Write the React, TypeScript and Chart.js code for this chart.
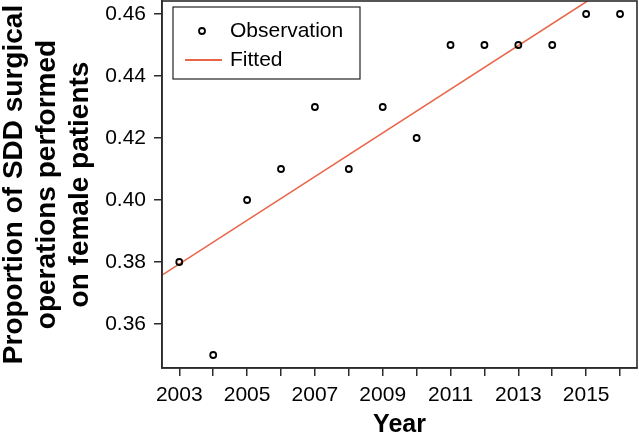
import React, { useEffect, useRef } from "react";
import { Chart, registerables } from "chart.js";

Chart.register(...registerables);

const years = [2003, 2004, 2005, 2006, 2007, 2008, 2009, 2010, 2011, 2012, 2013, 2014, 2015, 2016];
const observed = [0.38, 0.35, 0.40, 0.41, 0.43, 0.41, 0.43, 0.42, 0.45, 0.45, 0.45, 0.45, 0.46, 0.46];
const fittedYears = [2002, 2017];
const fittedValues = [0.3723, 0.478];
const xLabelYears = [2003, 2005, 2007, 2009, 2011, 2013, 2015];
const yTicks = [0.36, 0.38, 0.40, 0.42, 0.44, 0.46];
const yTitle = ["Proportion of SDD surgical", "operations performed", "on female patients"];
const xTitle = "Year";
const legendLabels = ["Observation", "Fitted"];

const FONT = "'Liberation Sans', Arial, Helvetica, sans-serif";
const FIT_COLOR = "#e8654a";
const AXIS_COLOR = "#2b2b2b";

const framePlugin = {
  id: "frameAndLegend",
  afterDraw(chart: any) {
    const { ctx, chartArea } = chart;
    const { left, top, right, bottom } = chartArea;
    ctx.save();
    ctx.strokeStyle = AXIS_COLOR;
    ctx.lineWidth = 1.6;
    ctx.strokeRect(left, top, right - left, bottom - top);

    // y-axis title (three centred lines, rotated)
    ctx.fillStyle = "#000";
    ctx.font = `bold 28px ${FONT}`;
    ctx.textAlign = "center";
    ctx.textBaseline = "alphabetic";
    const cy = (top + bottom) / 2;
    yTitle.forEach((line, i) => {
      ctx.save();
      ctx.translate(22 + i * 33, cy);
      ctx.rotate(-Math.PI / 2);
      ctx.fillText(line, 0, 0);
      ctx.restore();
    });

    // legend box
    const lx = left + 11;
    const ly = top + 6;
    const lw = 187;
    const lh = 72;
    ctx.fillStyle = "#ffffff";
    ctx.fillRect(lx, ly, lw, lh);
    ctx.strokeStyle = "#222";
    ctx.lineWidth = 1.2;
    ctx.strokeRect(lx, ly, lw, lh);

    // observation marker
    ctx.beginPath();
    ctx.arc(lx + 29, ly + 24, 3, 0, Math.PI * 2);
    ctx.strokeStyle = "#000";
    ctx.lineWidth = 1.8;
    ctx.stroke();

    // fitted line
    ctx.beginPath();
    ctx.moveTo(lx + 12, ly + 53);
    ctx.lineTo(lx + 49, ly + 53);
    ctx.strokeStyle = FIT_COLOR;
    ctx.lineWidth = 2;
    ctx.stroke();

    ctx.fillStyle = "#000";
    ctx.font = `21px ${FONT}`;
    ctx.textBaseline = "middle";
    ctx.textAlign = "left";
    ctx.fillText(legendLabels[0], lx + 57, ly + 24);
    ctx.fillText(legendLabels[1], lx + 57, ly + 53);
    ctx.restore();
  },
};

export default function App() {
  const canvasRef = useRef<HTMLCanvasElement>(null);

  useEffect(() => {
    if (!canvasRef.current) return;
    const chart = new Chart(canvasRef.current, {
      type: "scatter",
      data: {
        datasets: [
          {
            type: "line",
            label: legendLabels[1],
            data: fittedYears.map((x, i) => ({ x, y: fittedValues[i] })),
            borderColor: FIT_COLOR,
            borderWidth: 1.6,
            pointRadius: 0,
            fill: false,
            order: 2,
          } as any,
          {
            type: "scatter",
            label: legendLabels[0],
            data: years.map((x, i) => ({ x, y: observed[i] })),
            pointStyle: "circle",
            pointRadius: 3,
            pointBorderWidth: 1.8,
            borderColor: "#000",
            backgroundColor: "rgba(255,255,255,0)",
            order: 1,
          } as any,
        ],
      },
      options: {
        animation: false,
        responsive: false,
        maintainAspectRatio: false,
        layout: { autoPadding: false, padding: { top: 1, right: 2, left: 0, bottom: 0 } },
        plugins: { legend: { display: false }, tooltip: { enabled: false } },
        scales: {
          x: {
            type: "linear",
            min: 2002.49,
            max: 2016.5,
            afterBuildTicks: (axis: any) => {
              axis.ticks = years.map((v) => ({ value: v }));
            },
            afterFit: (axis: any) => {
              axis.height = 70;
              axis.paddingLeft = 0;
              axis.paddingRight = 0;
            },
            ticks: {
              autoSkip: false,
              maxRotation: 0,
              minRotation: 0,
              padding: 7,
              color: "#000",
              font: { family: FONT, size: 21 },
              callback: (v: any) => (xLabelYears.includes(Number(v)) ? String(v) : ""),
            },
            grid: {
              drawOnChartArea: false,
              drawTicks: true,
              tickLength: 8,
              color: AXIS_COLOR,
              lineWidth: 1.5,
            },
            border: { display: true, color: AXIS_COLOR, width: 1.6 },
            title: {
              display: true,
              text: xTitle,
              color: "#000",
              font: { family: FONT, size: 25, weight: "bold", lineHeight: 1 },
              padding: { top: 0, bottom: 0 },
            },
          },
          y: {
            type: "linear",
            min: 0.34581,
            max: 0.46419,
            afterBuildTicks: (axis: any) => {
              axis.ticks = yTicks.map((v) => ({ value: v }));
            },
            afterFit: (axis: any) => {
              axis.width = 162;
              axis.paddingTop = 0;
              axis.paddingBottom = 0;
            },
            ticks: {
              padding: 8,
              color: "#000",
              font: { family: FONT, size: 21 },
              callback: (v: any) => Number(v).toFixed(2),
            },
            grid: {
              drawOnChartArea: false,
              drawTicks: true,
              tickLength: 8,
              color: AXIS_COLOR,
              lineWidth: 1.5,
            },
            border: { display: true, color: AXIS_COLOR, width: 1.6 },
            title: { display: false },
          },
        },
      },
      plugins: [framePlugin],
    } as any);
    return () => chart.destroy();
  }, []);

  return (
    <div style={{ position: "fixed", left: 0, top: 0, width: 639, height: 438, background: "#fff" }}>
      <canvas ref={canvasRef} width={639} height={438} style={{ display: "block" }} />
    </div>
  );
}
